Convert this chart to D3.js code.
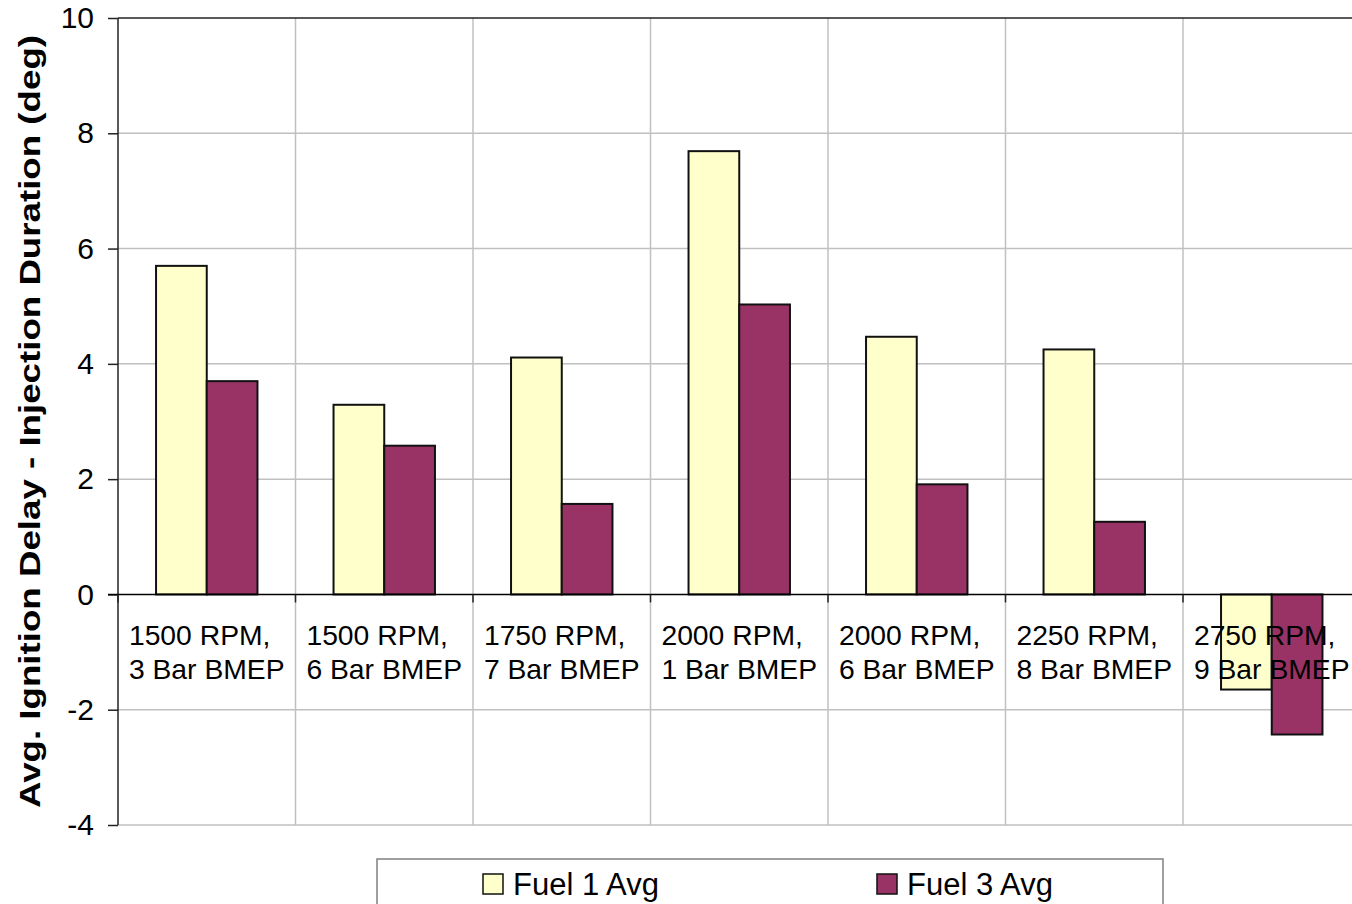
<!DOCTYPE html>
<html>
<head>
<meta charset="utf-8">
<script src="https://cdn.jsdelivr.net/npm/d3@7"></script>
<style>
  html, body { margin: 0; padding: 0; background: #fff; }
  svg { display: block; font-family: Arial, "Liberation Sans", sans-serif; }
</style>
</head>
<body>
<svg id="chart" width="1352" height="904"></svg>
<script>
const categories = [
  ["1500 RPM,", "3 Bar BMEP"],
  ["1500 RPM,", "6 Bar BMEP"],
  ["1750 RPM,", "7 Bar BMEP"],
  ["2000 RPM,", "1 Bar BMEP"],
  ["2000 RPM,", "6 Bar BMEP"],
  ["2250 RPM,", "8 Bar BMEP"],
  ["2750 RPM,", "9 Bar BMEP"]
];
const seriesNames = ["Fuel 1 Avg", "Fuel 3 Avg"];
const fuel1 = [5.7, 3.29, 4.11, 7.69, 4.47, 4.25, -1.65];
const fuel3 = [3.7, 2.58, 1.57, 5.03, 1.91, 1.26, -2.43];
const seriesColors = ["#FFFFCC", "#993366"];
const yTicks = [-4, -2, 0, 2, 4, 6, 8, 10];
const yTitle = "Avg. Ignition Delay - Injection Duration (deg)";

(function () {
const svg = d3.select("#chart");
const pLeft = 118, pTop = 18, pBottom = 825, pRight = 1360.5;
const catKeys = categories.map(c => c.join(" "));

const y = d3.scaleLinear().domain([-4, 10]).range([pBottom, pTop]);
const x0 = d3.scaleBand().domain(catKeys).range([pLeft, pRight]).paddingInner(0).paddingOuter(0);
const x1 = d3.scaleBand().domain(seriesNames).range([0, x0.bandwidth()]).paddingInner(0).paddingOuter(0.75);

// horizontal gridlines
svg.append("g").selectAll("line")
  .data(yTicks.filter(t => t !== 0 && t !== 10))
  .join("line")
  .attr("x1", pLeft).attr("x2", 1352)
  .attr("y1", d => y(d)).attr("y2", d => y(d))
  .attr("stroke", "#c0c0c0").attr("stroke-width", 1.5);

// vertical gridlines at category boundaries
svg.append("g").selectAll("line")
  .data(catKeys.slice(1))
  .join("line")
  .attr("x1", d => x0(d)).attr("x2", d => x0(d))
  .attr("y1", pTop).attr("y2", pBottom)
  .attr("stroke", "#c0c0c0").attr("stroke-width", 1.5);

// top border
svg.append("line")
  .attr("x1", pLeft).attr("x2", 1352).attr("y1", y(10)).attr("y2", y(10))
  .attr("stroke", "#222").attr("stroke-width", 1.5);

// bars
const data = categories.map((c, i) => ({ key: catKeys[i], vals: [fuel1[i], fuel3[i]] }));
const groups = svg.append("g").selectAll("g")
  .data(data).join("g")
  .attr("transform", d => `translate(${x0(d.key)},0)`);
groups.selectAll("rect")
  .data(d => d.vals.map((v, j) => ({ name: seriesNames[j], v, j })))
  .join("rect")
  .attr("x", d => x1(d.name))
  .attr("width", x1.bandwidth())
  .attr("y", d => y(Math.max(0, d.v)))
  .attr("height", d => Math.abs(y(d.v) - y(0)))
  .attr("fill", d => seriesColors[d.j])
  .attr("stroke", "#111").attr("stroke-width", 2);

// y axis
const yAxis = d3.axisLeft(y).tickValues(yTicks).tickSize(10).tickPadding(14).tickFormat(d => String(d));
const gy = svg.append("g").attr("transform", `translate(${pLeft},0)`).call(yAxis);
gy.select(".domain").remove();
gy.selectAll(".tick line").attr("stroke", "#222").attr("stroke-width", 1.5);
gy.selectAll(".tick text").attr("font-size", 30).attr("fill", "#000")
  .attr("font-family", "Arial, 'Liberation Sans', sans-serif");
svg.append("line").attr("x1", pLeft).attr("x2", pLeft).attr("y1", pTop).attr("y2", pBottom)
  .attr("stroke", "#222").attr("stroke-width", 1.5);

// zero axis line
svg.append("line").attr("x1", pLeft - 10).attr("x2", 1352).attr("y1", y(0)).attr("y2", y(0))
  .attr("stroke", "#000").attr("stroke-width", 1.5);

// x ticks at category boundaries
svg.append("g").selectAll("line")
  .data(catKeys)
  .join("line")
  .attr("x1", d => x0(d)).attr("x2", d => x0(d))
  .attr("y1", y(0)).attr("y2", y(0) + 8)
  .attr("stroke", "#222").attr("stroke-width", 1.5);

// category labels (two lines, block centered, lines left-aligned)
categories.forEach((c, i) => {
  const cx = x0(catKeys[i]) + x0.bandwidth() / 2;
  const t = svg.append("text").attr("font-size", 28.3).attr("fill", "#000");
  const spans = c.map((line, k) => t.append("tspan").attr("y", k === 0 ? 645 : 679).text(line));
  const w = Math.max(...spans.map(s => s.node().getComputedTextLength()));
  spans.forEach(s => s.attr("x", cx - w / 2));
});

// y title
svg.append("text")
  .attr("transform", `translate(40,${(35 + 808) / 2}) rotate(-90)`)
  .attr("text-anchor", "middle")
  .attr("font-size", 29).attr("font-weight", "bold").attr("fill", "#000")
  .attr("textLength", 773).attr("lengthAdjust", "spacingAndGlyphs")
  .text(yTitle);

// legend
const lg = svg.append("g");
lg.append("rect").attr("x", 377).attr("y", 859).attr("width", 786).attr("height", 70)
  .attr("fill", "#fff").attr("stroke", "#808080").attr("stroke-width", 1.5);
const legX = [483, 877];
seriesNames.forEach((n, j) => {
  lg.append("rect").attr("x", legX[j]).attr("y", 874).attr("width", 20).attr("height", 20)
    .attr("fill", seriesColors[j]).attr("stroke", "#111").attr("stroke-width", 1.5);
  lg.append("text").attr("x", legX[j] + 30).attr("y", 895)
    .attr("font-size", 31).attr("fill", "#000").text(n);
});
})();
</script>
</body>
</html>
